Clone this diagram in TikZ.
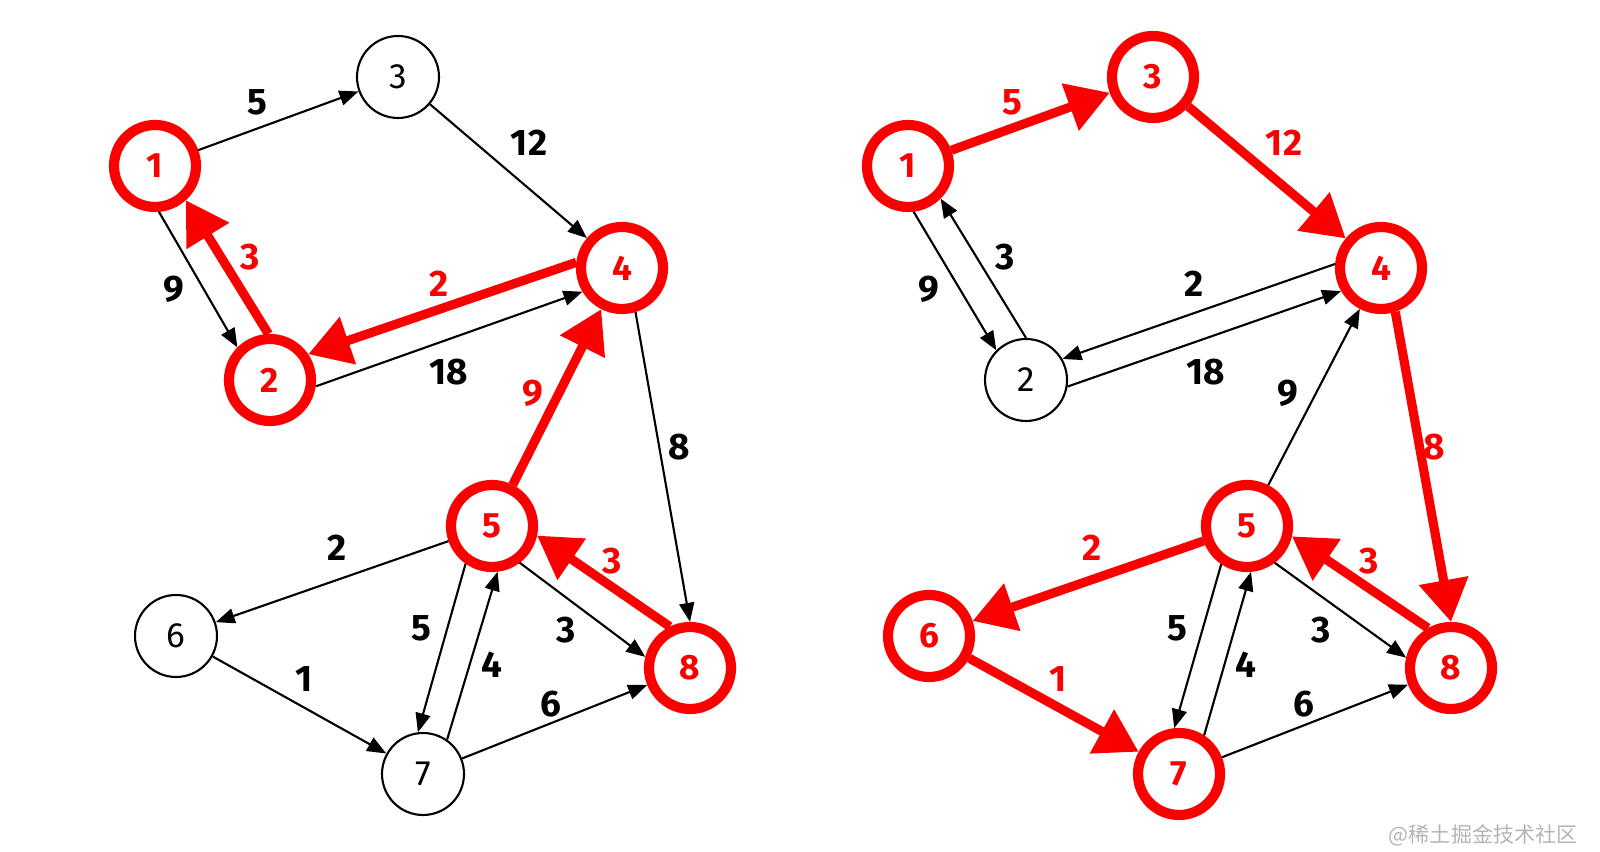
\documentclass[tikz,border=0pt]{standalone}
\usepackage{fontspec}
\setmainfont{Fira Sans}
\newfontfamily\cjkfont{Noto Sans CJK SC}
\usepackage{tikz}
\usetikzlibrary{arrows.meta}
\definecolor{pathred}{RGB}{250, 0, 0}
\definecolor{markgray}{RGB}{180, 180, 180}

\begin{document}
\begin{tikzpicture}[
    vertex/.style={circle, draw, line width=0.6pt, minimum size=0.82cm, inner sep=0pt, font=\fontsize{10}{12}\selectfont},
    hotvertex/.style={vertex, draw=pathred, line width=2.9pt, text=pathred, font=\fontsize{10}{12}\selectfont\bfseries},
    arc/.style={-{Triangle[length=0.19cm, width=0.15cm]}, line width=0.6pt},
    hotarc/.style={-{Triangle[length=0.42cm, width=0.48cm]}, draw=pathred, line width=2.6pt},
    weight/.style={font=\fontsize{10.5}{12}\selectfont\bfseries},
    hotweight/.style={weight, text=pathred}
]
    \useasboundingbox (0,0) rectangle (16,8.52);

    % Left graph
    \node[hotvertex] (l1) at (1.55,6.86) {1};
    \node[hotvertex] (l2) at (2.70,4.72) {2};
    \node[vertex] (l3) at (3.98,7.75) {3};
    \node[hotvertex] (l4) at (6.22,5.84) {4};
    \node[hotvertex] (l5) at (4.92,3.26) {5};
    \node[vertex] (l6) at (1.76,2.16) {6};
    \node[vertex] (l7) at (4.23,0.78) {7};
    \node[hotvertex] (l8) at (6.90,1.84) {8};

    \draw[arc] (l1) -- (l3);
    \draw[arc] (l3) -- (l4);
    \draw[arc] (l1.-85) -- (l2.135);
    \draw[hotarc] (l2.92) -- (l1.-48);
    \draw[hotarc] (l4.173) -- (l2.34);
    \draw[arc] (l2.-8) -- (l4.-149);
    \draw[hotarc] (l5) -- (l4);
    \draw[arc] (l4.-73) -- (l8.north);
    \draw[arc] (l5) -- (l6);
    \draw[arc] (l6) -- (l7);
    \draw[arc] (l5.-125) -- (l7.97);
    \draw[arc] (l7.55) -- (l5.-83);
    \draw[arc] (l5.-53) -- (l8.166);
    \draw[hotarc] (l8.116) -- (l5.-12);
    \draw[arc] (l7) -- (l8);

    \node[weight] (lw13) at (2.57,7.50) {5};
    \node[weight] (lw34) at (5.29,7.09) {12};
    \node[weight] (lw12) at (1.74,5.63) {9};
    \node[hotweight] (lw21) at (2.50,5.95) {3};
    \node[hotweight] (lw42) at (4.39,5.68) {2};
    \node[weight] (lw24) at (4.49,4.80) {18};
    \node[hotweight] (lw54) at (5.33,4.59) {9};
    \node[weight] (lw48) at (6.79,4.05) {8};
    \node[weight] (lw56) at (3.37,3.04) {2};
    \node[weight] (lw57) at (4.21,2.24) {5};
    \node[weight] (lw75) at (4.92,1.87) {4};
    \node[weight] (lw58) at (5.66,2.22) {3};
    \node[hotweight] (lw85) at (6.12,2.91) {3};
    \node[weight] (lw67) at (3.04,1.73) {1};
    \node[weight] (lw78) at (5.51,1.48) {6};

    % Right graph
    \node[hotvertex] (r1) at (9.08,6.86) {1};
    \node[vertex] (r2) at (10.26,4.72) {2};
    \node[hotvertex] (r3) at (11.53,7.75) {3};
    \node[hotvertex] (r4) at (13.81,5.84) {4};
    \node[hotvertex] (r5) at (12.47,3.26) {5};
    \node[hotvertex] (r6) at (9.29,2.16) {6};
    \node[hotvertex] (r7) at (11.79,0.78) {7};
    \node[hotvertex] (r8) at (14.51,1.84) {8};

    \draw[hotarc] (r1) -- (r3);
    \draw[hotarc] (r3) -- (r4);
    \draw[arc] (r1.-83) -- (r2.135);
    \draw[arc] (r2.90) -- (r1.-45);
    \draw[arc] (r4.175) -- (r2.30);
    \draw[arc] (r2.-9) -- (r4.-150);
    \draw[arc] (r5) -- (r4);
    \draw[hotarc] (r4.-72) -- (r8.north);
    \draw[hotarc] (r5) -- (r6);
    \draw[hotarc] (r6) -- (r7);
    \draw[arc] (r5.-124) -- (r7.96);
    \draw[arc] (r7.57) -- (r5.-85);
    \draw[arc] (r5.-53) -- (r8.167);
    \draw[hotarc] (r8.120) -- (r5.-13);
    \draw[arc] (r7) -- (r8);

    \node[hotweight] (rw13) at (10.12,7.50) {5};
    \node[hotweight] (rw34) at (12.84,7.09) {12};
    \node[weight] (rw12) at (9.29,5.63) {9};
    \node[weight] (rw21) at (10.05,5.95) {3};
    \node[weight] (rw42) at (11.94,5.68) {2};
    \node[weight] (rw24) at (12.06,4.80) {18};
    \node[weight] (rw54) at (12.88,4.59) {9};
    \node[hotweight] (rw48) at (14.34,4.05) {8};
    \node[hotweight] (rw56) at (10.92,3.04) {2};
    \node[weight] (rw57) at (11.77,2.24) {5};
    \node[weight] (rw75) at (12.46,1.87) {4};
    \node[weight] (rw58) at (13.21,2.22) {3};
    \node[hotweight] (rw85) at (13.69,2.91) {3};
    \node[hotweight] (rw67) at (10.58,1.73) {1};
    \node[weight] (rw78) at (13.04,1.48) {6};

    % Watermark
    \node[text=markgray, anchor=east, font=\cjkfont\fontsize{6}{7}\selectfont] (mark) at (15.90,0.17) {@稀土掘金技术社区};
\end{tikzpicture}
\end{document}
